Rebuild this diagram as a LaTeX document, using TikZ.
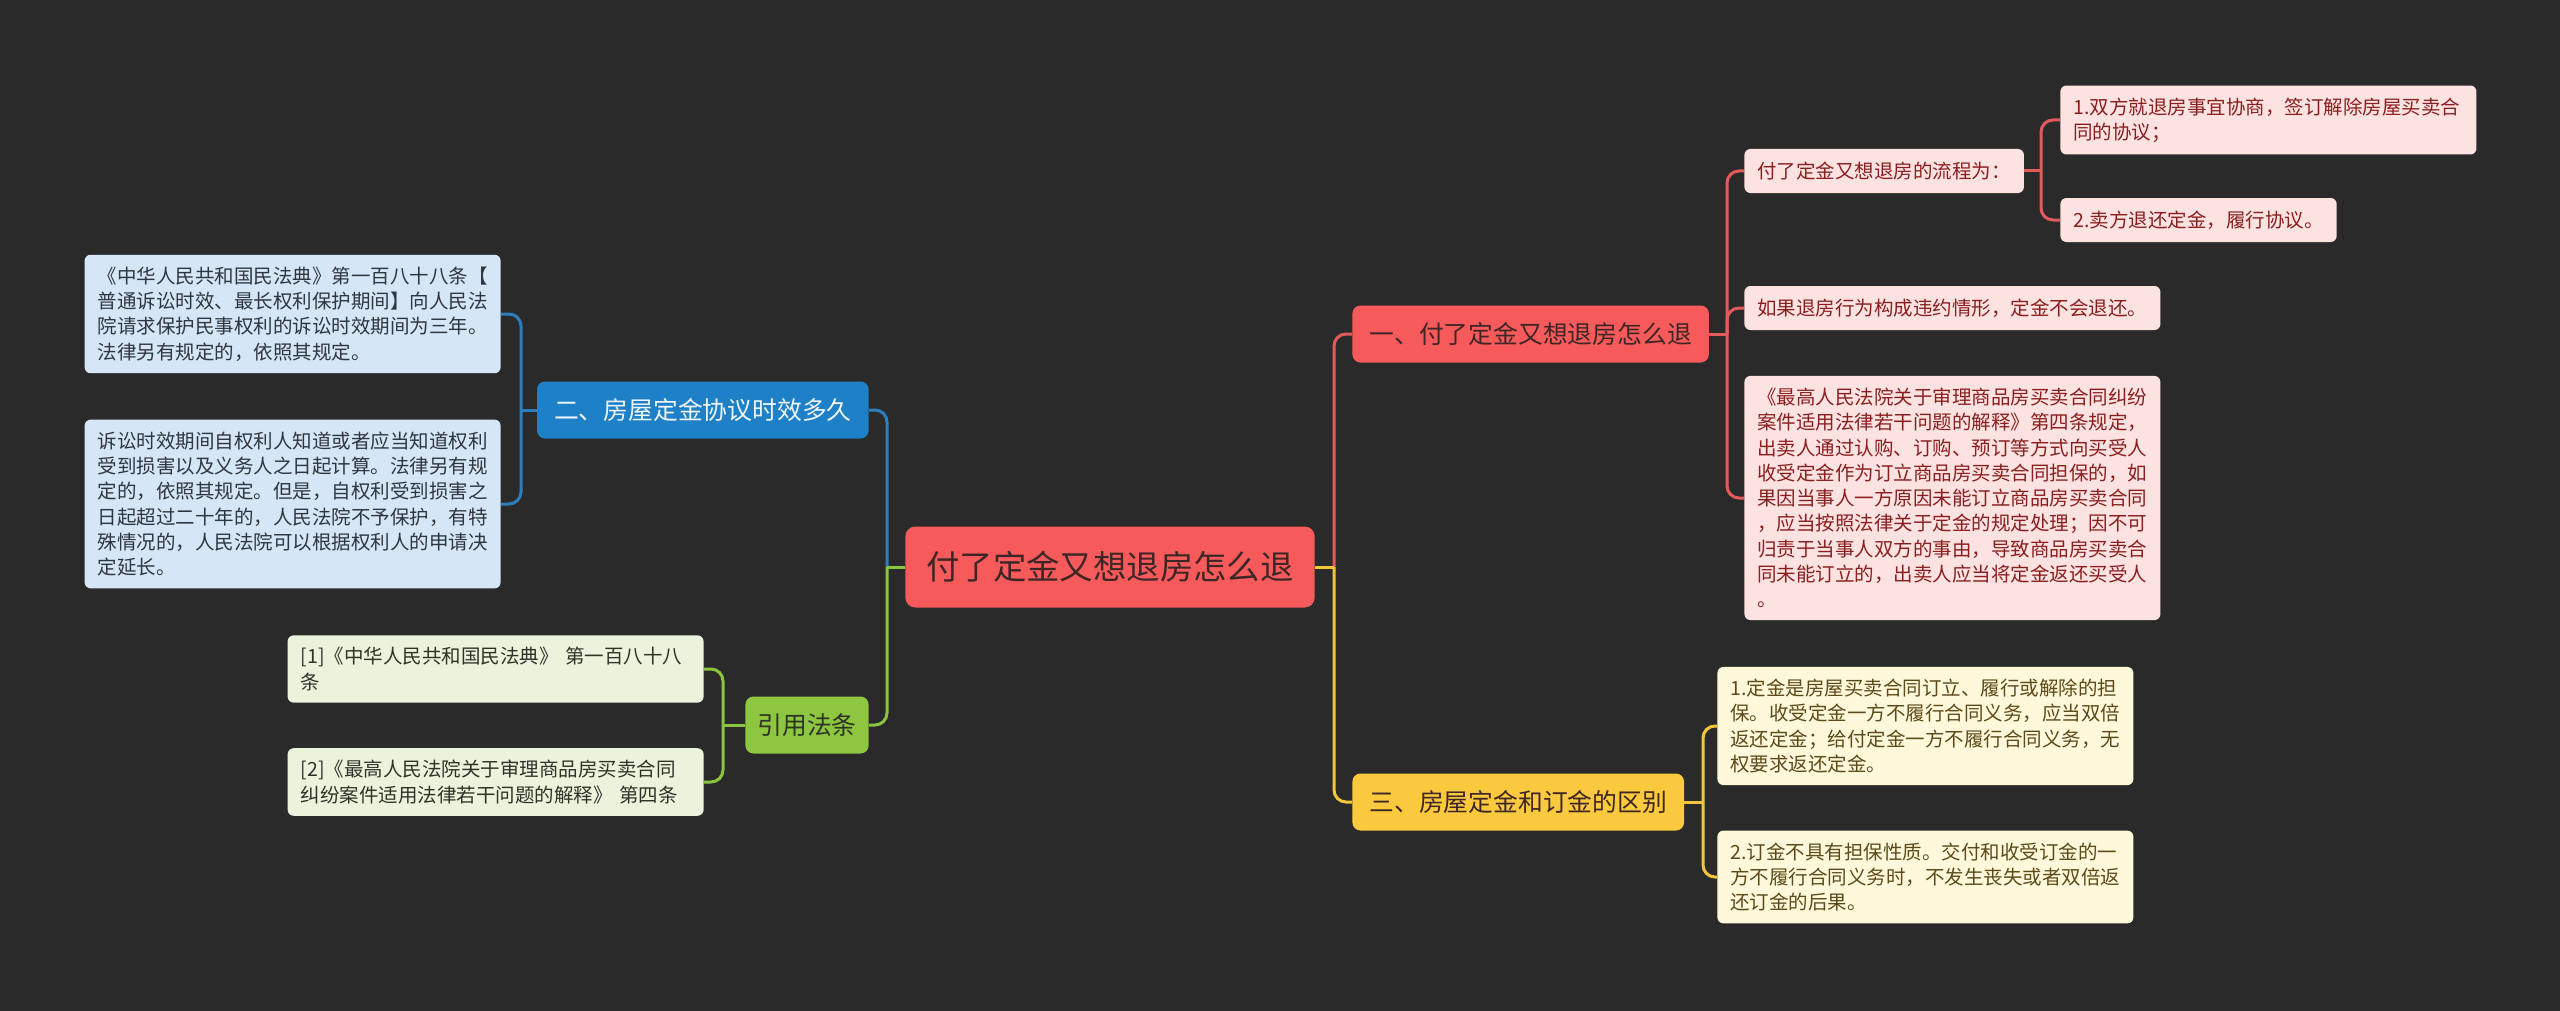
\documentclass[tikz,border=0pt]{standalone}
\usepackage{fontspec}
\setmainfont{Noto Sans CJK SC}

\definecolor{bgc}{HTML}{2A2A2A}
\definecolor{rootc}{HTML}{F65A5B}
\definecolor{darktxt}{HTML}{3E2626}
\definecolor{redl}{HTML}{E35A5C}
\definecolor{redleaf}{HTML}{FDE2E2}
\definecolor{redtxt}{HTML}{8A1F1F}
\definecolor{bluec}{HTML}{1E80C6}
\definecolor{bluel}{HTML}{2C7EBD}
\definecolor{blueleaf}{HTML}{D5E7F6}
\definecolor{bluetxt}{HTML}{2E3640}
\definecolor{yelc}{HTML}{FAC93D}
\definecolor{yell}{HTML}{F2C53A}
\definecolor{yelleaf}{HTML}{FFF8DA}
\definecolor{yeltxt}{HTML}{5C4A1A}
\definecolor{grnc}{HTML}{8DC63F}
\definecolor{grnl}{HTML}{8BC43F}
\definecolor{grnleaf}{HTML}{EBF3DD}
\definecolor{grntxt}{HTML}{2E3326}

\begin{document}
\begin{tikzpicture}[x=0.5pt,y=-0.5pt]

    \tikzset{
      leaf/.style={
        rounded corners=3pt,
        inner xsep=6.5pt,
        inner ysep=6pt,
        minimum height=22pt,
        align=left,
        font=\fontsize{9.75}{12.65}\selectfont,
      },
      wide/.style={text width=195pt},
      branch/.style={
        rounded corners=4pt,
        inner xsep=8.5pt,
        minimum height=28.5pt,
        font=\fontsize{12.4}{14}\selectfont,
      },
      link/.style={line width=1.5pt, rounded corners=6pt},
    }
    \fill[bgc] (0,0) rectangle (2560,1011);

    \node[rounded corners=5pt, fill=rootc, text=darktxt, inner xsep=10.5pt, minimum height=40.5pt,
      font=\fontsize{16.7}{19}\selectfont] (root) at (1110,567) {付了定金又想退房怎么退};

    \node[branch, fill=rootc, text=darktxt, anchor=west] (b1) at (1352,334) {一、付了定金又想退房怎么退};
    \node[branch, fill=yelc, text=darktxt, anchor=west] (b3) at (1352,802) {三、房屋定金和订金的区别};
    \node[branch, fill=bluec, text=white!92!bluec, anchor=east] (b2) at (869,410) {二、房屋定金协议时效多久};
    \node[branch, fill=grnc, text=grntxt, anchor=east, inner xsep=6pt] (b4) at (869,725) {引用法条};

    \coordinate (tR) at (1334,0);
    \coordinate (tL) at (887,0);
    \coordinate (t1) at (1727,0);
    \coordinate (t11) at (2041,0);
    \coordinate (t3) at (1703,0);
    \coordinate (t2) at (521,0);
    \coordinate (t4) at (723,0);

    \node[leaf, fill=redleaf, text=redtxt, anchor=west] (l11) at (1744,171) {付了定金又想退房的流程为：};
    \node[leaf, wide, fill=redleaf, text=redtxt, anchor=west] (l111) at (2060,120)
      {1.双方就退房事宜协商，签订解除房屋买卖合\\同的协议；};
    \node[leaf, fill=redleaf, text=redtxt, anchor=west] (l112) at (2060,220) {2.卖方退还定金，履行协议。};
    \node[leaf, wide, fill=redleaf, text=redtxt, anchor=west] (l12) at (1744,308) {如果退房行为构成违约情形，定金不会退还。};
    \node[leaf, wide, fill=redleaf, text=redtxt, anchor=west] (l13) at (1744,498)
      {《最高人民法院关于审理商品房买卖合同纠纷\\案件适用法律若干问题的解释》第四条规定，\\出卖人通过认购、订购、预订等方式向买受人\\收受定金作为订立商品房买卖合同担保的，如\\果因当事人一方原因未能订立商品房买卖合同\\，应当按照法律关于定金的规定处理；因不可\\归责于当事人双方的事由，导致商品房买卖合\\同未能订立的，出卖人应当将定金返还买受人\\。};

    \node[leaf, wide, fill=yelleaf, text=yeltxt, anchor=west] (l31) at (1717,726)
      {1.定金是房屋买卖合同订立、履行或解除的担\\保。收受定金一方不履行合同义务，应当双倍\\返还定金；给付定金一方不履行合同义务，无\\权要求返还定金。};
    \node[leaf, wide, fill=yelleaf, text=yeltxt, anchor=west] (l32) at (1717,877)
      {2.订金不具有担保性质。交付和收受订金的一\\方不履行合同义务时，不发生丧失或者双倍返\\还订金的后果。};

    \node[leaf, wide, fill=blueleaf, text=bluetxt, anchor=east] (l21) at (501,314)
      {《中华人民共和国民法典》第一百八十八条【\\普通诉讼时效、最长权利保护期间】向人民法\\院请求保护民事权利的诉讼时效期间为三年。\\法律另有规定的，依照其规定。};
    \node[leaf, wide, fill=blueleaf, text=bluetxt, anchor=east] (l22) at (501,504)
      {诉讼时效期间自权利人知道或者应当知道权利\\受到损害以及义务人之日起计算。法律另有规\\定的，依照其规定。但是，自权利受到损害之\\日起超过二十年的，人民法院不予保护，有特\\殊情况的，人民法院可以根据权利人的申请决\\定延长。};

    \node[leaf, wide, fill=grnleaf, text=grntxt, anchor=east] (l41) at (704,669)
      {[1]《中华人民共和国民法典》 第一百八十八\\条};
    \node[leaf, wide, fill=grnleaf, text=grntxt, anchor=east] (l42) at (704,782)
      {[2]《最高人民法院关于审理商品房买卖合同\\纠纷案件适用法律若干问题的解释》 第四条};

    % right side
    \draw[link, redl] (tR |- root.east) |- (b1.west);
    \draw[link, yell] (tR |- root.east) |- (b3.west);
    \draw[link, yell] (root.east) -- (tR |- root.east);
    \draw[link, redl] (b1.east) -- (t1 |- b1.east);
    \foreach \c in {l11,l12,l13}
      \draw[link, redl] (t1 |- b1.east) |- (\c.west);
    \draw[link, redl] (l11.east) -- (t11 |- l11.east);
    \foreach \c in {l111,l112}
      \draw[link, redl] (t11 |- l11.east) |- (\c.west);
    \draw[link, yell] (b3.east) -- (t3 |- b3.east);
    \foreach \c in {l31,l32}
      \draw[link, yell] (t3 |- b3.east) |- (\c.west);

    % left side
    \draw[link, bluel] (tL |- root.west) |- (b2.east);
    \draw[link, grnl] (tL |- root.west) |- (b4.east);
    \draw[link, grnl] (root.west) -- (tL |- root.west);
    \draw[link, bluel] (b2.west) -- (t2 |- b2.west);
    \foreach \c in {l21,l22}
      \draw[link, bluel] (t2 |- b2.west) |- (\c.east);
    \draw[link, grnl] (b4.west) -- (t4 |- b4.west);
    \foreach \c in {l41,l42}
      \draw[link, grnl] (t4 |- b4.west) |- (\c.east);

\end{tikzpicture}
\end{document}
